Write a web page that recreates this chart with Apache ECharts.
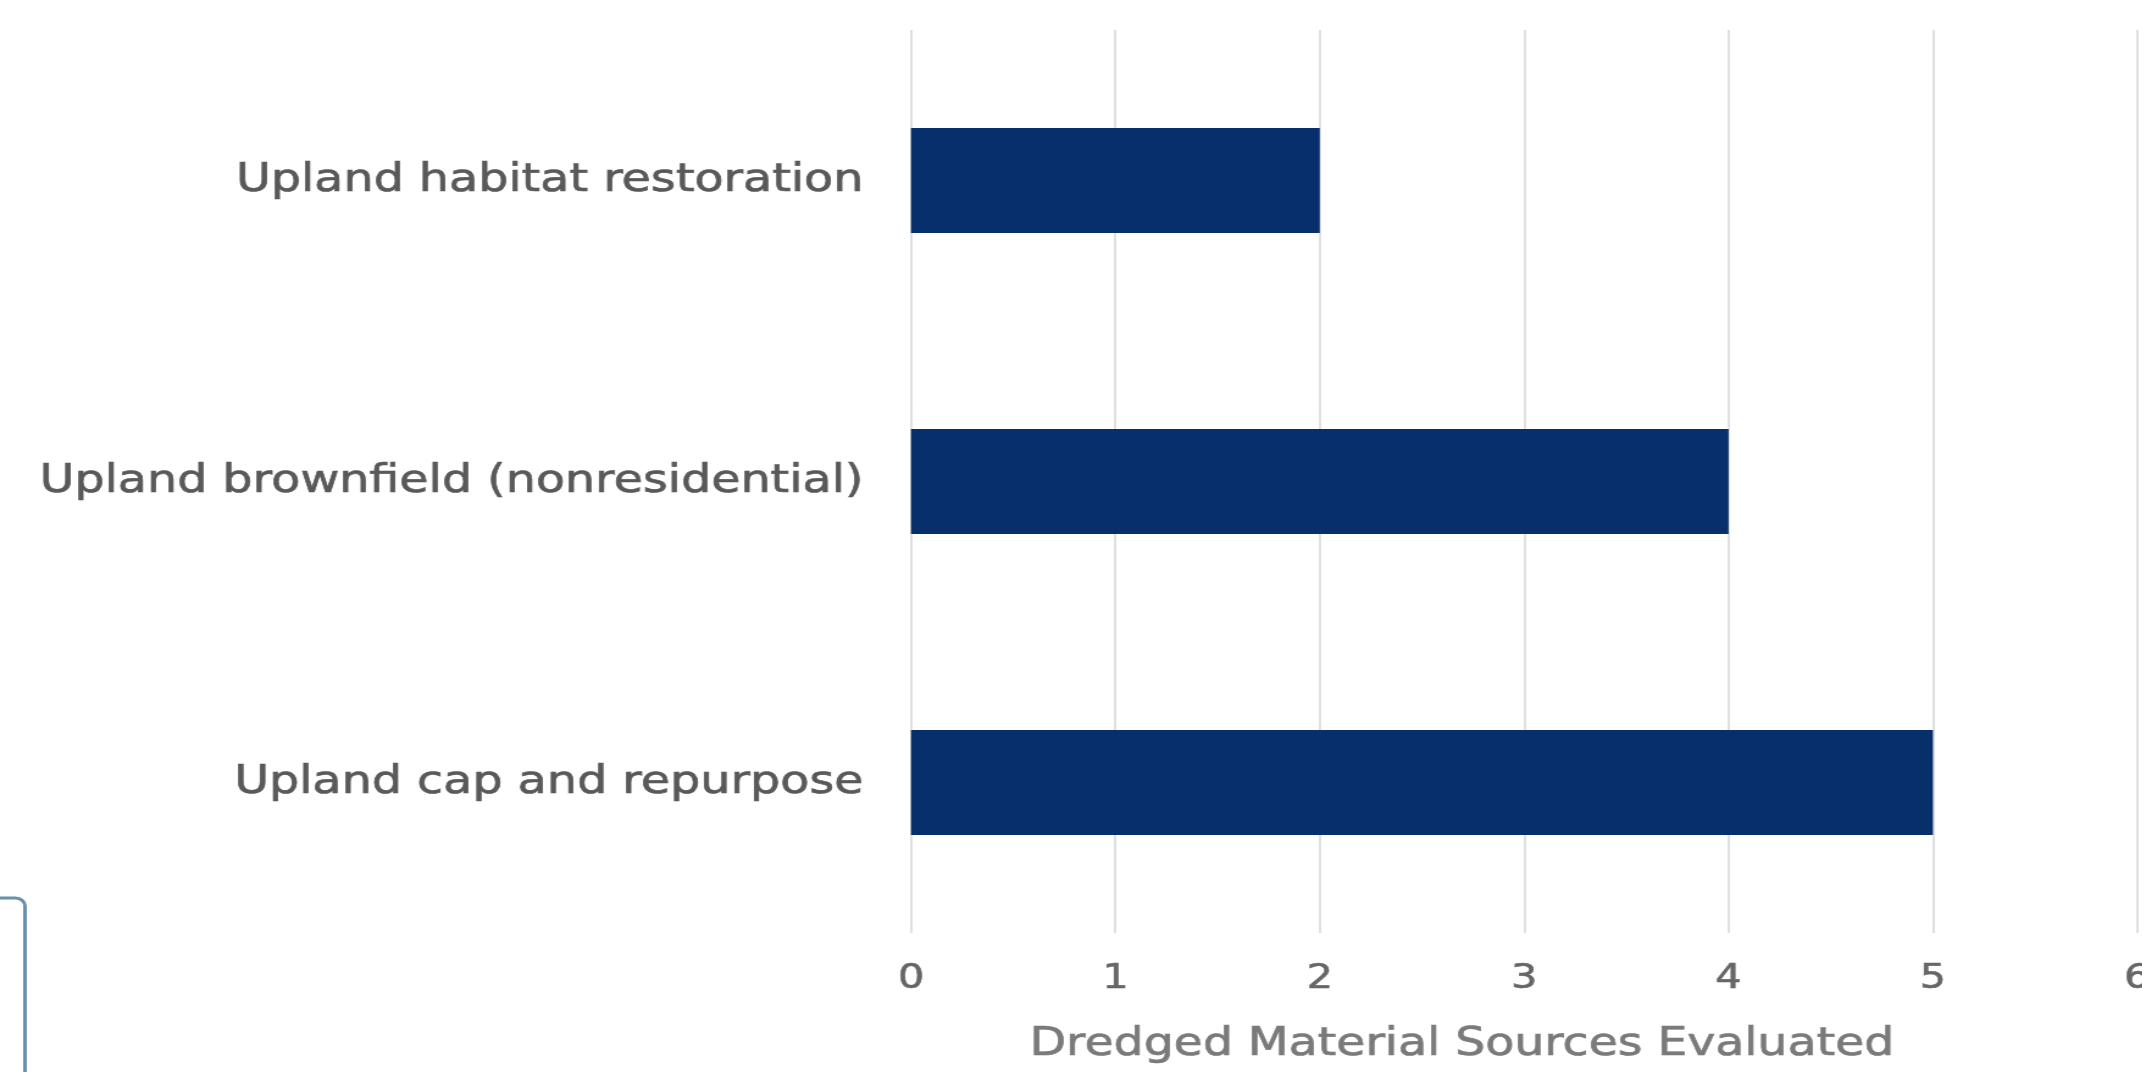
<!DOCTYPE html>
<html>
<head>
<meta charset="utf-8">
<script src="https://cdn.jsdelivr.net/npm/echarts@6/dist/echarts.min.js"></script>
<style>
  html, body { margin: 0; padding: 0; background: #ffffff; overflow: hidden; }
  #wrap { width: 2142px; height: 1072px; overflow: hidden; position: relative; }
  /* the chart is laid out narrower and widened so the type runs broad */
  #chart { width: 1756px; height: 1072px; transform: scaleX(1.22); transform-origin: 0 0; }
</style>
</head>
<body>
<div id="wrap"><div id="chart"></div></div>
<script>
// Reuse options evaluated per dredged material source
const categories = [
  'Upland habitat restoration',
  'Upland brownfield (nonresidential)',
  'Upland cap and repurpose'
];
const sourceCounts = [2, 4, 5];
const axisTitle = 'Dredged Material Sources Evaluated';

const chart = echarts.init(document.getElementById('chart'), null, { renderer: 'canvas' });

chart.setOption({
  animation: false,
  backgroundColor: '#ffffff',
  grid: {
    left: 746.7, right: 4.1, top: 30, bottom: 139,
    containLabel: false,
    outerBoundsMode: 'none'
  },
  xAxis: {
    type: 'value',
    min: 0,
    max: 6,
    interval: 1,
    axisLine: { show: false },
    axisTick: { show: false },
    splitLine: { show: true, lineStyle: { color: '#d9d9d9', width: 1.6 } },
    axisLabel: {
      margin: 29,
      color: '#666666',
      fontFamily: 'DejaVu Sans',
      fontSize: 34,
      textBorderColor: '#666666',
      textBorderWidth: 0.6
    },
    name: axisTitle,
    nameLocation: 'middle',
    nameGap: 92,
    nameTextStyle: {
      color: '#7a7a7a',
      fontFamily: 'DejaVu Sans',
      fontSize: 38.8,
      textBorderColor: '#7a7a7a',
      textBorderWidth: 0.7,
      padding: [0, 102, 0, 0]
    }
  },
  yAxis: {
    type: 'category',
    inverse: true,
    data: categories,
    axisLine: { show: false },
    axisTick: { show: false },
    splitLine: { show: false },
    axisLabel: {
      margin: 39,
      color: '#595959',
      fontFamily: 'DejaVu Sans',
      fontSize: 39,
      textBorderColor: '#595959',
      textBorderWidth: 0.7
    }
  },
  series: [{
    type: 'bar',
    data: sourceCounts,
    barWidth: 105,
    itemStyle: { color: '#062f6b' }
  }],
  graphic: [{
    type: 'rect',
    silent: true,
    shape: { x: -300, y: 898, width: 320.5, height: 400, r: 8 },
    style: { fill: 'none', stroke: '#6a91aa', lineWidth: 3 }
  }]
});
</script>
</body>
</html>
